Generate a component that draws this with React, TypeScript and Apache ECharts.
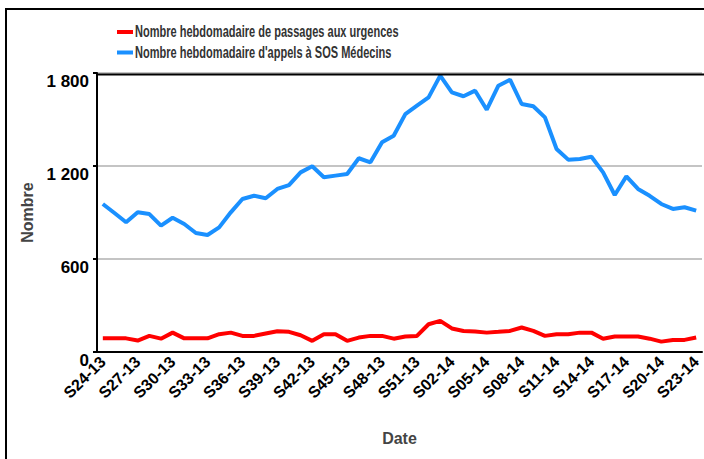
import React, { useEffect, useRef } from "react";
import * as echarts from "echarts";

const weeks2013: string[] = [
  "S24-13","S25-13","S26-13","S27-13","S28-13","S29-13","S30-13","S31-13","S32-13","S33-13",
  "S34-13","S35-13","S36-13","S37-13","S38-13","S39-13","S40-13","S41-13","S42-13","S43-13",
  "S44-13","S45-13","S46-13","S47-13","S48-13","S49-13","S50-13","S51-13","S52-13",
];
const weeks2014: string[] = [
  "S01-14","S02-14","S03-14","S04-14","S05-14","S06-14","S07-14","S08-14","S09-14","S10-14",
  "S11-14","S12-14","S13-14","S14-14","S15-14","S16-14","S17-14","S18-14","S19-14","S20-14",
  "S21-14","S22-14","S23-14",
];
const categories: string[] = [...weeks2013, ...weeks2014];

const urgences: number[] = [
  88, 88, 88, 74, 104, 86, 125, 88, 88, 88,
  115, 125, 104, 104, 119, 134, 130, 108, 72, 115,
  115, 72, 93, 104, 104, 86, 100, 104, 179, 201,
  152, 136, 132, 125, 130, 136, 158, 136, 104, 115,
  115, 125, 125, 86, 100, 100, 100, 86, 67, 78,
  78, 93,
];

const sosMedecins: number[] = [
  955, 897, 837, 901, 890, 815, 866, 826, 768, 755,
  804, 901, 987, 1008, 992, 1052, 1077, 1159, 1198, 1127,
  1138, 1148, 1250, 1224, 1353, 1395, 1535, 1589, 1643, 1783,
  1675, 1650, 1686, 1563, 1718, 1757, 1600, 1585, 1514, 1310,
  1241, 1245, 1260, 1159, 1013, 1133, 1052, 1008, 955, 923,
  934, 912,
];

const seriesNames: string[] = [
  "Nombre hebdomadaire de passages aux urgences",
  "Nombre hebdomadaire d'appels à SOS Médecins",
];
const seriesColors: string[] = ["#ff0000", "#1a90ff"];

const FONT = "'Liberation Sans', Arial, sans-serif";

export default function App() {
  const ref = useRef<HTMLDivElement>(null);
  useEffect(() => {
    if (!ref.current) return;
    const chart = echarts.init(ref.current, undefined, { renderer: "svg" });

    const legendItems = seriesNames.map((name, i) => ({
      type: "group",
      x: 117,
      y: 32 + i * 20.5,
      silent: true,
      children: [
        {
          type: "rect",
          shape: { x: 0, y: -2, width: 16, height: 4 },
          style: { fill: seriesColors[i] },
        },
        {
          type: "text",
          x: 18,
          y: 0,
          scaleX: 0.69,
          style: {
            text: name,
            fontFamily: FONT,
            fontSize: 16,
            fontWeight: "bold",
            fill: "#333333",
            verticalAlign: "middle",
            align: "left",
          },
        },
      ],
    }));

    chart.setOption({
      animation: false,
      backgroundColor: "#ffffff",
      textStyle: { fontFamily: FONT },
      legend: { show: false, data: seriesNames },
      grid: { left: 97, top: 73, width: 605, height: 279, containLabel: false },
      xAxis: {
        type: "category",
        data: categories,
        boundaryGap: true,
        name: "Date",
        nameLocation: "middle",
        nameGap: 78,
        nameTextStyle: { fontFamily: FONT, fontSize: 16, fontWeight: "bold", color: "#444444" },
        axisLine: { lineStyle: { color: "#000000", width: 2 } },
        axisTick: { alignWithLabel: true, interval: 2, length: 5, lineStyle: { color: "#000000", width: 2 } },
        axisLabel: {
          interval: 2,
          rotate: 45,
          margin: 7,
          fontFamily: FONT,
          fontSize: 16,
          fontWeight: "bold",
          color: "#000000",
        },
        splitLine: { show: false },
      },
      yAxis: {
        type: "value",
        min: 0,
        max: 1800,
        interval: 600,
        name: "Nombre",
        nameLocation: "middle",
        nameGap: 61,
        nameRotate: 90,
        nameTextStyle: { fontFamily: FONT, fontSize: 16, fontWeight: "bold", color: "#444444" },
        axisLine: { show: true, lineStyle: { color: "#000000", width: 2 } },
        axisTick: { show: true, length: 4, lineStyle: { color: "#000000", width: 2 } },
        axisLabel: {
          fontFamily: FONT,
          fontSize: 17,
          fontWeight: "bold",
          color: "#000000",
          margin: 8,
          verticalAlign: "top",
          formatter: (v: number) => String(v).replace(/\B(?=(\d{3})+(?!\d))/g, " "),
        },
        splitLine: { show: true, lineStyle: { color: "#c4c4c4", width: 2 } },
      },
      graphic: [
        {
          type: "rect",
          shape: { x: 6, y: 9, width: 760, height: 520 },
          style: { fill: "none", stroke: "#000000", lineWidth: 2 },
          silent: true,
        },
        {
          type: "line",
          shape: { x1: 97, y1: 74.5, x2: 704, y2: 74.5 },
          style: { stroke: "#000000", lineWidth: 2 },
          silent: true,
          z: 10,
        },
        ...legendItems,
      ],
      series: [
        {
          name: seriesNames[0],
          type: "line",
          data: urgences,
          symbol: "none",
          lineStyle: { color: seriesColors[0], width: 4 },
          itemStyle: { color: seriesColors[0] },
        },
        {
          name: seriesNames[1],
          type: "line",
          data: sosMedecins,
          symbol: "none",
          lineStyle: { color: seriesColors[1], width: 4 },
          itemStyle: { color: seriesColors[1] },
        },
      ],
    });
    return () => chart.dispose();
  }, []);
  return (
    <div
      ref={ref}
      style={{ position: "absolute", left: 0, top: 0, width: 704, height: 459 }}
    />
  );
}
